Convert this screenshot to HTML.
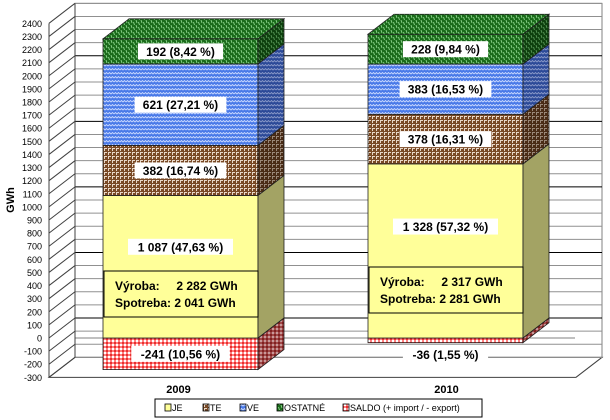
<!DOCTYPE html>
<html><head><meta charset="utf-8"><style>
body{margin:0;background:#fff}
svg{display:block;font-family:"Liberation Sans",Arial,sans-serif}
</style></head><body>
<svg width="610" height="420" viewBox="0 0 610 420">
<defs>
<pattern id="pJE" width="4" height="4" patternUnits="userSpaceOnUse"><rect width="4" height="4" fill="#ffff99"/></pattern>
<pattern id="pJEs" width="4" height="4" patternUnits="userSpaceOnUse"><rect width="4" height="4" fill="#a3a364"/></pattern>
<pattern id="pTE" width="4" height="4" patternUnits="userSpaceOnUse"><rect width="4" height="4" fill="#7a4a26"/><rect x="0" y="0" width="3" height="1" fill="#e8d8c8"/><rect x="0" y="0" width="1" height="3" fill="#e8d8c8"/></pattern>
<pattern id="pTEs" width="4" height="4" patternUnits="userSpaceOnUse"><rect width="4" height="4" fill="#4a2c16"/><rect x="0" y="0" width="3" height="1" fill="#9a8878"/><rect x="0" y="0" width="1" height="3" fill="#9a8878"/></pattern>
<pattern id="pVE" width="6" height="4" patternUnits="userSpaceOnUse"><rect width="6" height="4" fill="#4a7ae8"/><path d="M0 2 L1.5 0.5 L3 2 L4.5 0.5 L6 2" stroke="#c8d8ff" stroke-width="0.9" fill="none"/></pattern>
<pattern id="pVEs" width="6" height="4" patternUnits="userSpaceOnUse"><rect width="6" height="4" fill="#2c4a98"/><path d="M0 2 L1.5 0.5 L3 2 L4.5 0.5 L6 2" stroke="#8898c8" stroke-width="0.9" fill="none"/></pattern>
<pattern id="pOS" width="5" height="5" patternUnits="userSpaceOnUse"><rect width="5" height="5" fill="#1a6a1a"/><path d="M1 0 L2 3 M3.5 2 L4.5 5" stroke="#8fd88f" stroke-width="0.9"/></pattern>
<pattern id="pOSs" width="5" height="5" patternUnits="userSpaceOnUse"><rect width="5" height="5" fill="#0e400e"/><path d="M1 0 L2 3 M3.5 2 L4.5 5" stroke="#5a985a" stroke-width="0.9"/></pattern>
<pattern id="pSA" width="4" height="4" patternUnits="userSpaceOnUse"><rect width="4" height="4" fill="#ff8080"/><rect width="2" height="2" fill="#fff"/><rect x="2" y="2" width="2" height="2" fill="#e83030"/></pattern>
<pattern id="pSAs" width="4" height="4" patternUnits="userSpaceOnUse"><rect width="4" height="4" fill="#a04848"/><rect width="2" height="2" fill="#c89898"/><rect x="2" y="2" width="2" height="2" fill="#802020"/></pattern>
</defs>
<g id="grid"></g>
<g id="axis"></g>
<g id="bars"></g>
<text x="14" y="200" font-size="11" font-weight="bold" transform="rotate(-90 14 200)" text-anchor="middle">GWh</text>
<g>
<rect x="155" y="399" width="327" height="18" fill="#fff" stroke="#000" stroke-width="1"/>
</g>
<g id="legend"></g>
</svg>
<script>
const years=["2009","2010"];
const seriesNames=["JE","TE","VE","OSTATNÉ","SALDO (+ import / - export)"];
const je=[1087,1328];
const te=[382,378];
const ve=[621,383];
const ost=[192,228];
const saldo=[-241,-36];
const seriesLabels=[["1 087 (47,63 %)","382 (16,74 %)","621 (27,21 %)","192 (8,42 %)","-241 (10,56 %)"],["1 328 (57,32 %)","378 (16,31 %)","383 (16,53 %)","228 (9,84 %)","-36 (1,55 %)"]];
const vyroba=["2 282","2 317"];
const spotreba=["2 041","2 281"];
const ticks=[];for(let v=-300;v<=2400;v+=100)ticks.push(v);

const NS="http://www.w3.org/2000/svg";
const DX=26,DY=-20;
function y(v){return 338-v*(354/2700);}
function el(tag,attrs,parent){const e=document.createElementNS(NS,tag);for(const k in attrs)e.setAttribute(k,attrs[k]);parent.appendChild(e);return e;}
const grid=document.getElementById('grid'),axis=document.getElementById('axis'),bars=document.getElementById('bars'),leg=document.getElementById('legend');
const wall=el('polygon',{points:`75,${y(2400)+DY} 602,${y(2400)+DY} 602,${y(-300)+DY} 75,${y(-300)+DY}`,fill:'#fff',stroke:'#808080'},grid);


const floor=el('polygon',{points:`49,${y(-300)} 576,${y(-300)} 602,${y(-300)+DY} 75,${y(-300)+DY}`,fill:'#fff',stroke:'#404040'},grid);


ticks.forEach(v=>{
 const ln=el('line',{x1:75,x2:602,y1:y(v)+DY,y2:y(v)+DY,stroke:v%500===0?'#000':'#909090','stroke-width':1},grid);
 
 
 el('line',{x1:49,y1:y(v),x2:75,y2:y(v)+DY,stroke:'#404040'},axis);
 const t=el('text',{x:42,y:y(v)+3.5,'font-size':9,'text-anchor':'end'},axis);
 
 
 t.textContent=v;
});
el('line',{x1:49,y1:y(2400),x2:49,y2:y(-300),stroke:'#404040'},axis);
el('line',{x1:75,y1:y(2400)+DY,x2:75,y2:y(-300)+DY,stroke:'#404040'},axis);
el('line',{x1:75,y1:y(0)+DY+20,x2:575,y2:y(0)+DY+20,stroke:'#808080'},grid);
const barX=[103,368],barW=155;
const fills=[['pJE','pJEs'],['pTE','pTEs'],['pVE','pVEs'],['pOS','pOSs'],['pSA','pSAs']];
function box(x0,v0,v1,f,name){
 const g=el('g',{},bars);
 
 
 const yt=Math.min(y(v0),y(v1)),yb=Math.max(y(v0),y(v1));
 el('rect',{x:x0,y:yt,width:barW,height:yb-yt,fill:`url(#${f[0]})`,stroke:'#202020','stroke-width':0.8},g);
 el('polygon',{points:`${x0+barW},${yt} ${x0+barW+DX},${yt+DY} ${x0+barW+DX},${yb+DY} ${x0+barW},${yb}`,fill:`url(#${f[1]})`,stroke:'#202020','stroke-width':0.8},g);
 return {yt,yb,g};
}
years.forEach((yr,i)=>{
 const x0=barX[i];
 const vals=[je[i],te[i],ve[i],ost[i]];
 const s=box(x0,0,saldo[i],fills[4],'bar-saldo-'+yr);
 let c=0;const segs=[];
 vals.forEach((v,k)=>{segs.push(box(x0,c,c+v,fills[k],'bar-'+seriesNames[k].toLowerCase()+'-'+yr));c+=v;});
 el('polygon',{points:`${x0},${y(c)} ${x0+barW},${y(c)} ${x0+barW+DX},${y(c)+DY} ${x0+DX},${y(c)+DY}`,fill:'url(#pOS)',stroke:'#202020','stroke-width':0.8},bars);
 function lab(txt,cx,cy,name){
  const g=el('g',{},bars);
  
  
  const w=txt.length*6.6+6;
  el('rect',{x:cx-w/2,y:cy-8,width:w,height:16,fill:'#fff'},g);
  const t=el('text',{x:cx,y:cy+4.5,'font-size':12,'font-weight':'bold','text-anchor':'middle'},g);
  t.textContent=txt;
 }
 const cx=x0+barW/2;
 lab(seriesLabels[i][0],cx,y(je[i]*0.64),'label-je-'+yr);
 [1,2,3].forEach(k=>lab(seriesLabels[i][k],cx,(segs[k].yt+segs[k].yb)/2,'label-'+seriesNames[k].toLowerCase()+'-'+yr));
 lab(seriesLabels[i][4],cx,i===0?(s.yt+s.yb)/2:y(-36)+12,'label-saldo-'+yr);
 const ib=el('g',{},bars);
 
 
 const by=i===0?271:267;
 el('rect',{x:x0+1,y:by,width:barW-1,height:46,fill:'#ffff99',stroke:'#000'},ib);
 const t1=el('text',{x:x0+12,y:by+19,'font-size':12,'font-weight':'bold'},ib);t1.textContent='Výroba:\u00a0\u00a0\u00a0\u00a0\u00a0'+vyroba[i]+' GWh';
 const t2=el('text',{x:x0+12,y:by+36,'font-size':12,'font-weight':'bold'},ib);t2.textContent='Spotreba: '+spotreba[i]+' GWh';
 const yl=el('text',{x:x0+barW/2+(i===0?-2:1),y:393,'font-size':11,'font-weight':'bold','text-anchor':'middle'},bars);
 
 
 yl.textContent=yr;
});
const lx=[165,203,240,277,343];
const lf=['pJE','pTE','pVE','pOS','pSA'];
seriesNames.forEach((n,k)=>{
 const g=el('g',{},leg);
 
 
 el('rect',{x:lx[k],y:404,width:6,height:7,fill:`url(#${lf[k]})`,stroke:'#000','stroke-width':0.8},g);
 const t=el('text',{x:lx[k]+7,y:411,'font-size':9},g);t.textContent=n;
});
</script>
</body></html>
